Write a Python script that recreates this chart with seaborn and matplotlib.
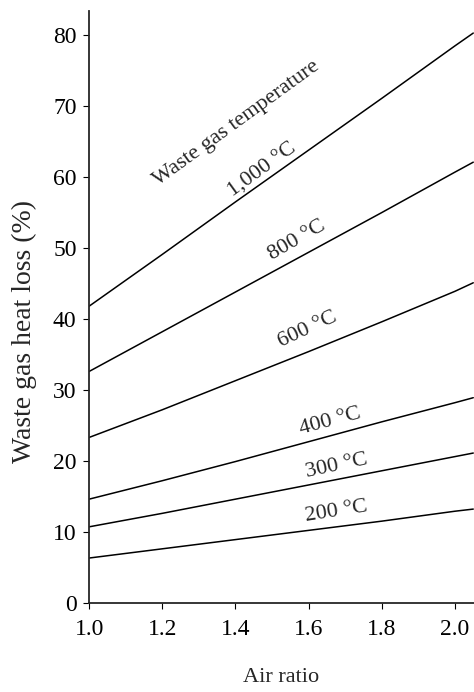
import matplotlib
matplotlib.use("Agg")
import matplotlib.pyplot as plt
import seaborn as sns
import pandas as pd

# air ratio positions
air_ratio = [1.0, 1.2, 1.4, 1.6, 1.8, 2.0, 2.05]
# waste gas heat loss (%) per waste gas temperature
loss_1000 = [41.8, 49.1, 56.5, 63.8, 71.1, 78.5, 80.3]
loss_800 = [32.6, 38.2, 43.8, 49.4, 55.0, 60.7, 62.1]
loss_600 = [23.3, 27.2, 31.3, 35.4, 39.6, 43.9, 45.1]
loss_400 = [14.6, 17.2, 19.9, 22.7, 25.5, 28.2, 28.9]
loss_300 = [10.7, 12.6, 14.6, 16.6, 18.6, 20.6, 21.1]
loss_200 = [6.3, 7.6, 8.9, 10.2, 11.5, 12.9, 13.2]
temps = ['1,000 °C', '800 °C', '600 °C', '400 °C', '300 °C', '200 °C']
x_ticks = [1.0, 1.2, 1.4, 1.6, 1.8, 2.0]
y_ticks = [0, 10, 20, 30, 40, 50, 60, 70, 80]

series = [loss_1000, loss_800, loss_600, loss_400, loss_300, loss_200]
rows = []
for t, vals in zip(temps, series):
    for x, v in zip(air_ratio, vals):
        rows.append({'air': x, 'loss': v, 'temp': t})
df = pd.DataFrame(rows)

sns.set_style("ticks")
plt.rcParams['font.family'] = ['Liberation Serif', 'DejaVu Serif']

fig = plt.figure(figsize=(4.74, 6.92), dpi=100)
ax = fig.add_axes([0.188, 0.129, 0.812, 0.855])
sns.lineplot(data=df, x='air', y='loss', units='temp', estimator=None,
             color='black', linewidth=1.1, ax=ax)

ax.set_xlim(1.0, 2.052)
ax.set_ylim(0, 83.4)
ax.set_xticks(x_ticks)
ax.set_xticklabels(['%.1f' % v for v in x_ticks])
ax.set_yticks(y_ticks)
ax.tick_params(labelsize=17, length=4, width=0.8, colors='black', pad=5)
ax.tick_params(axis='x', pad=8)
sns.despine(ax=ax)
ax.spines['left'].set_linewidth(1.3)
ax.spines['bottom'].set_linewidth(1.3)
ax.set_xlabel('Air ratio', fontsize=16, labelpad=20)
ax.set_ylabel('Waste gas heat loss (%)', fontsize=20)
ax.yaxis.set_label_coords(-0.135, 0.458)

# curve labels
lbl = dict(fontsize=16, ha='center', va='center')
ax.text(1.404, 67.6, 'Waste gas temperature', rotation=36, **lbl)
ax.text(1.475, 61.0, temps[0], rotation=36, **lbl)
ax.text(1.568, 51.1, temps[1], rotation=30, **lbl)
ax.text(1.598, 38.5, temps[2], rotation=25, **lbl)
ax.text(1.658, 25.5, temps[3], rotation=15, **lbl)
ax.text(1.677, 19.3, temps[4], rotation=12, **lbl)
ax.text(1.677, 12.8, temps[5], rotation=9, **lbl)

fig.savefig('out.png', dpi=100)
